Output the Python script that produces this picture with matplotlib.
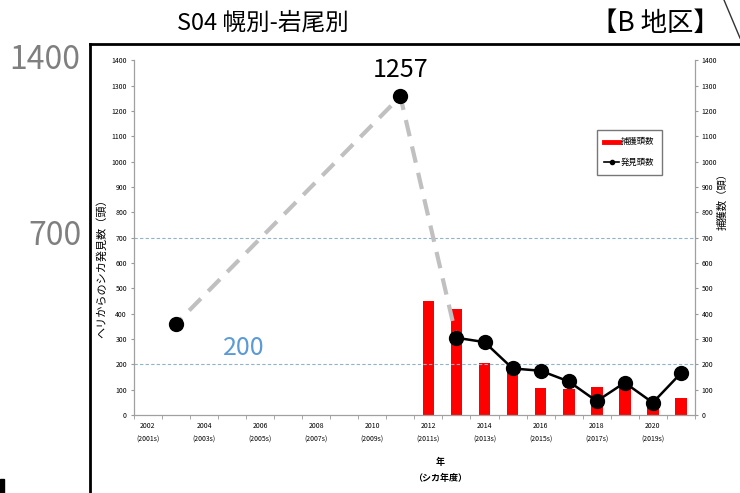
import matplotlib.pyplot as plt
import matplotlib.lines as mlines
import matplotlib.patches as mpatches
import numpy as np

plt.rcParams['font.family'] = ['Noto Sans CJK JP', 'DejaVu Sans']

# Data
years = list(range(2002, 2022))
found_years = [2003, 2011, 2013, 2014, 2015, 2016, 2017, 2018, 2019, 2020, 2021]
found_counts = [360, 1257, 305, 288, 184, 175, 133, 55, 128, 49, 165]
capture_years = [2012, 2013, 2014, 2015, 2016, 2017, 2018, 2019, 2020, 2021]
capture_counts = [452, 418, 206, 180, 105, 101, 109, 122, 42, 67]
label_years = [2002, 2004, 2006, 2008, 2010, 2012, 2014, 2016, 2018, 2020]
ref_lines = [700, 200]

fig = plt.figure(figsize=(7.4, 4.93), dpi=100)
ax = fig.add_axes([0.181, 0.158, 0.758, 0.72])
ax2 = ax.twinx()

# Reference lines
for v in ref_lines:
    ax.axhline(v, color='#8fb4c8', linestyle=(0, (3, 2)), linewidth=0.8, zorder=1)

# Capture bars (right axis)
ax2.bar(capture_years, capture_counts, width=0.42, color='#ff0000', zorder=2)

# Dashed segment (sparse survey years) and solid series
ax.plot(found_years[:3], found_counts[:3], color='#c0c0c0', linestyle=(2, (4, 2.5)),
        linewidth=3, zorder=3)
ax.plot(found_years[2:], found_counts[2:], color='black', linewidth=1.8, zorder=4)
ax.plot(found_years, found_counts, 'o', color='black', markersize=10, zorder=5)

ax.set_zorder(ax2.get_zorder() + 1)
ax.patch.set_visible(False)

# Axes ranges and ticks
for a in (ax, ax2):
    a.set_ylim(0, 1400)
    a.set_yticks(np.arange(0, 1401, 100))
    a.tick_params(axis='y', labelsize=5, length=2, color='#999999', pad=3)
    for s in a.spines.values():
        s.set_visible(False)
ax.spines['left'].set_visible(True)
ax.spines['bottom'].set_visible(True)
ax2.spines['right'].set_visible(True)
for s in (ax.spines['left'], ax.spines['bottom'], ax2.spines['right']):
    s.set_color('#a0a0a0')
    s.set_linewidth(0.9)

ax.set_xlim(years[0] - 0.5, years[-1] + 0.5)
ax.set_xticks([y - 0.5 for y in years] + [years[-1] + 0.5], minor=True)
ax.set_xticks(label_years)
ax.set_xticklabels([f'{y}\n({y - 1}s)' for y in label_years], fontsize=5,
                   linespacing=1.9)
ax.tick_params(axis='x', which='major', length=0, pad=5)
ax.tick_params(axis='x', which='minor', length=3, color='#999999', direction='out')

ax.set_ylabel('ヘリからのシカ発見数（頭）', fontsize=8)
ax.yaxis.set_label_coords(-0.048, 0.42)
ax2.set_ylabel('捕獲数（頭）', fontsize=7.5)
ax2.yaxis.set_label_coords(1.04, 0.61)

fig.text(0.595, 0.046, '年\n（シカ年度）', ha='center', va='center', fontsize=6.5,
         fontweight='bold', linespacing=1.9)

# Legend
h1 = mlines.Line2D([], [], color='#ff0000', linewidth=3.5)
h2 = mlines.Line2D([], [], color='black', linewidth=1.2, marker='o', markersize=3)
ax.legend([h1, h2], ['捕獲頭数', '発見頭数'], loc='upper left',
          bbox_to_anchor=(0.818, 0.815), fontsize=6, frameon=True, fancybox=False,
          edgecolor='#555555', handlelength=1.8, handletextpad=0.2,
          labelspacing=1.4, borderpad=0.9)

# Annotations
ax.annotate('1257', (found_years[1], found_counts[1]), xytext=(0, 10),
            textcoords='offset points', ha='center', va='bottom', fontsize=18)
ax.text(2005.4, 265, '200', color='#5b9bd5', fontsize=18, ha='center', va='center')
fig.text(0.06, 0.878, '1400', color='#7f7f7f', fontsize=23, ha='center', va='center')
fig.text(0.075, 0.522, '700', color='#7f7f7f', fontsize=23, ha='center', va='center')

fig.text(0.355, 0.952, 'S04 幌別-岩尾別', fontsize=17, ha='center', va='center')
fig.text(0.885, 0.952, '【B 地区】', fontsize=19, ha='center', va='center')

# Outer frame and decorations
fig.add_artist(mlines.Line2D([90 / 740, 90 / 740], [0, 1 - 44 / 493],
                             transform=fig.transFigure, color='black', linewidth=2))
fig.add_artist(mlines.Line2D([90 / 740, 1], [1 - 44 / 493, 1 - 44 / 493],
                             transform=fig.transFigure, color='black', linewidth=2))
fig.add_artist(mlines.Line2D([724 / 740, 740 / 740], [1, 1 - 38 / 493],
                             transform=fig.transFigure, color='#333333', linewidth=1))
fig.add_artist(mpatches.Rectangle((0, 0), 4 / 740, 14 / 493, transform=fig.transFigure,
                                  color='black'))

plt.savefig('out.png', dpi=100, facecolor='white')
